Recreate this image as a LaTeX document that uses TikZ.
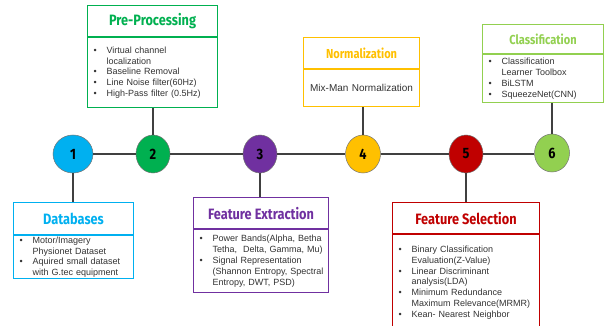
\documentclass[tikz,border=0pt]{standalone}
\usepackage{fontspec}
\setmainfont{Liberation Sans}
\newfontfamily\headfont[FakeStretch=0.85]{Fira Sans}
\usetikzlibrary{shapes.geometric}

\definecolor{cDB}{HTML}{00B0F0}
\definecolor{cPP}{HTML}{00B050}
\definecolor{cFE}{HTML}{7030A0}
\definecolor{cNO}{HTML}{FFC000}
\definecolor{cFS}{HTML}{C00000}
\definecolor{cCL}{HTML}{92D050}
\definecolor{bodytext}{HTML}{333333}

% bullet item with hanging indent
\newlength\bhang \setlength\bhang{19pt}
\newcommand\bitem[1]{\hangindent=\bhang\hangafter=1\noindent
  \makebox[\bhang][l]{\hspace*{6pt}\textbullet}#1\par}

\tikzset{
  head/.style={draw=#1, text=#1, line width=1.1pt, fill=white, inner sep=0pt,
    font=\headfont\bfseries\fontsize{15}{17}\selectfont},
  smallhead/.style={head=#1, font=\headfont\bfseries\fontsize{13}{15}\selectfont},
  body/.style={draw=#1, line width=1.1pt, fill=white, inner xsep=0pt, inner ysep=0pt,
    text=bodytext, align=left, font=\fontsize{9}{10.9}\selectfont},
  stage/.style={ellipse, draw=black!55, line width=0.5pt, fill=#1, inner sep=0pt,
    minimum width=34pt, minimum height=38pt,
    font=\headfont\bfseries\fontsize{15}{17}\selectfont},
  link/.style={draw=black!75, line width=1.1pt},
}

\begin{document}
\begin{tikzpicture}[x=1pt,y=-1pt]
\useasboundingbox (0,0) rectangle (605,326);

% stage markers along the timeline
\node[stage=cDB, minimum width=40pt] (c1) at (73,154) {1};
\node[stage=cPP] (c2) at (153,154) {2};
\node[stage=cFE] (c3) at (260,154) {3};
\node[stage=cNO, minimum width=35pt] (c4) at (363,154) {4};
\node[stage=cFS] (c5) at (466,154) {5};
\node[stage=cCL, minimum width=35pt] (c6) at (552,153) {6};

\draw[link] (c1.east) -- (c2.west);
\draw[link] (c2.east) -- (c3.west);
\draw[link] (c3.east) -- (c4.west);
\draw[link] (c4.east) -- (c5.west);
\draw[link] (c5.east) -- (c5.east -| c6.west);

% Databases
\node[head=cDB, minimum width=120pt, minimum height=32pt, anchor=north west] (dbT) at (13,202) {Databases};
\node[body=cDB, text width=120pt, minimum height=43pt, anchor=north west] (dbB) at (dbT.south west)
  {\bitem{Motor/Imagery\newline Physionet Dataset}\bitem{Aquired small dataset\newline with G.tec equipment}};

% Pre-Processing
\node[head=cPP, minimum width=130pt, minimum height=31pt, anchor=north west] (ppT) at (87,5) {Pre-Processing};
\node[body=cPP, text width=130pt, minimum height=70pt, anchor=north west] (ppB) at (ppT.south west)
  {\bitem{Virtual channel\newline localization}\bitem{Baseline Removal}\bitem{Line Noise filter(60Hz)}\bitem{High-Pass filter (0.5Hz)}};

% Feature Extraction
\node[head=cFE, minimum width=135pt, minimum height=31pt, anchor=north west] (feT) at (193,197) {Feature Extraction};
\node[body=cFE, text width=135pt, minimum height=63pt, anchor=north west] (feB) at (feT.south west)
  {\bitem{Power Bands(Alpha, Betha\newline Tetha,\ \ Delta, Gamma, Mu)}\bitem{Signal Representation\newline (Shannon Entropy, Spectral\newline Entropy, DWT, PSD)}};

% Normalization
\node[smallhead=cNO, minimum width=116pt, minimum height=31pt, anchor=north west] (noT) at (303,37) {Normalization};
\node[body=cNO, text width=116pt, align=center, minimum height=37pt, anchor=north west,
  font=\fontsize{10}{12}\selectfont] (noB) at (noT.south west) {Mix-Man Normalization};

% Feature Selection
\node[head=cFS, minimum width=147pt, minimum height=31pt, anchor=north west] (fsT) at (392,202) {Feature Selection};
\node[body=cFS, text width=147pt, minimum height=96pt, anchor=north west] (fsB) at (fsT.south west)
  {\bitem{Binary Classification\newline Evaluation(Z-Value)}\bitem{Linear Discriminant\newline analysis(LDA)}\bitem{Minimum Redundance\newline Maximum Relevance(MRMR)}\bitem{Kean- Nearest Neighbor}};

% Classification
\node[smallhead=cCL, minimum width=121pt, minimum height=29pt, anchor=north west] (clT) at (482,24) {Classification};
\node[body=cCL, text width=121pt, minimum height=48pt, anchor=north west] (clB) at (clT.south west)
  {\bitem{Classification\newline Learner Toolbox}\bitem{BiLSTM}\bitem{SqueezeNet(CNN)}};

% stems from markers to their boxes
\draw[link] (c1.south) -- (dbT.north -| c1.south);
\draw[link] (c2.north) -- (ppB.south -| c2.north);
\draw[link] (c3.south) -- (feT.north -| c3.south);
\draw[link] (c4.north) -- (noB.south -| c4.north);
\draw[link] (c5.south) -- (fsT.north -| c5.south);
\draw[link] (c6.north) -- (clB.south -| c6.north);
\end{tikzpicture}
\end{document}
